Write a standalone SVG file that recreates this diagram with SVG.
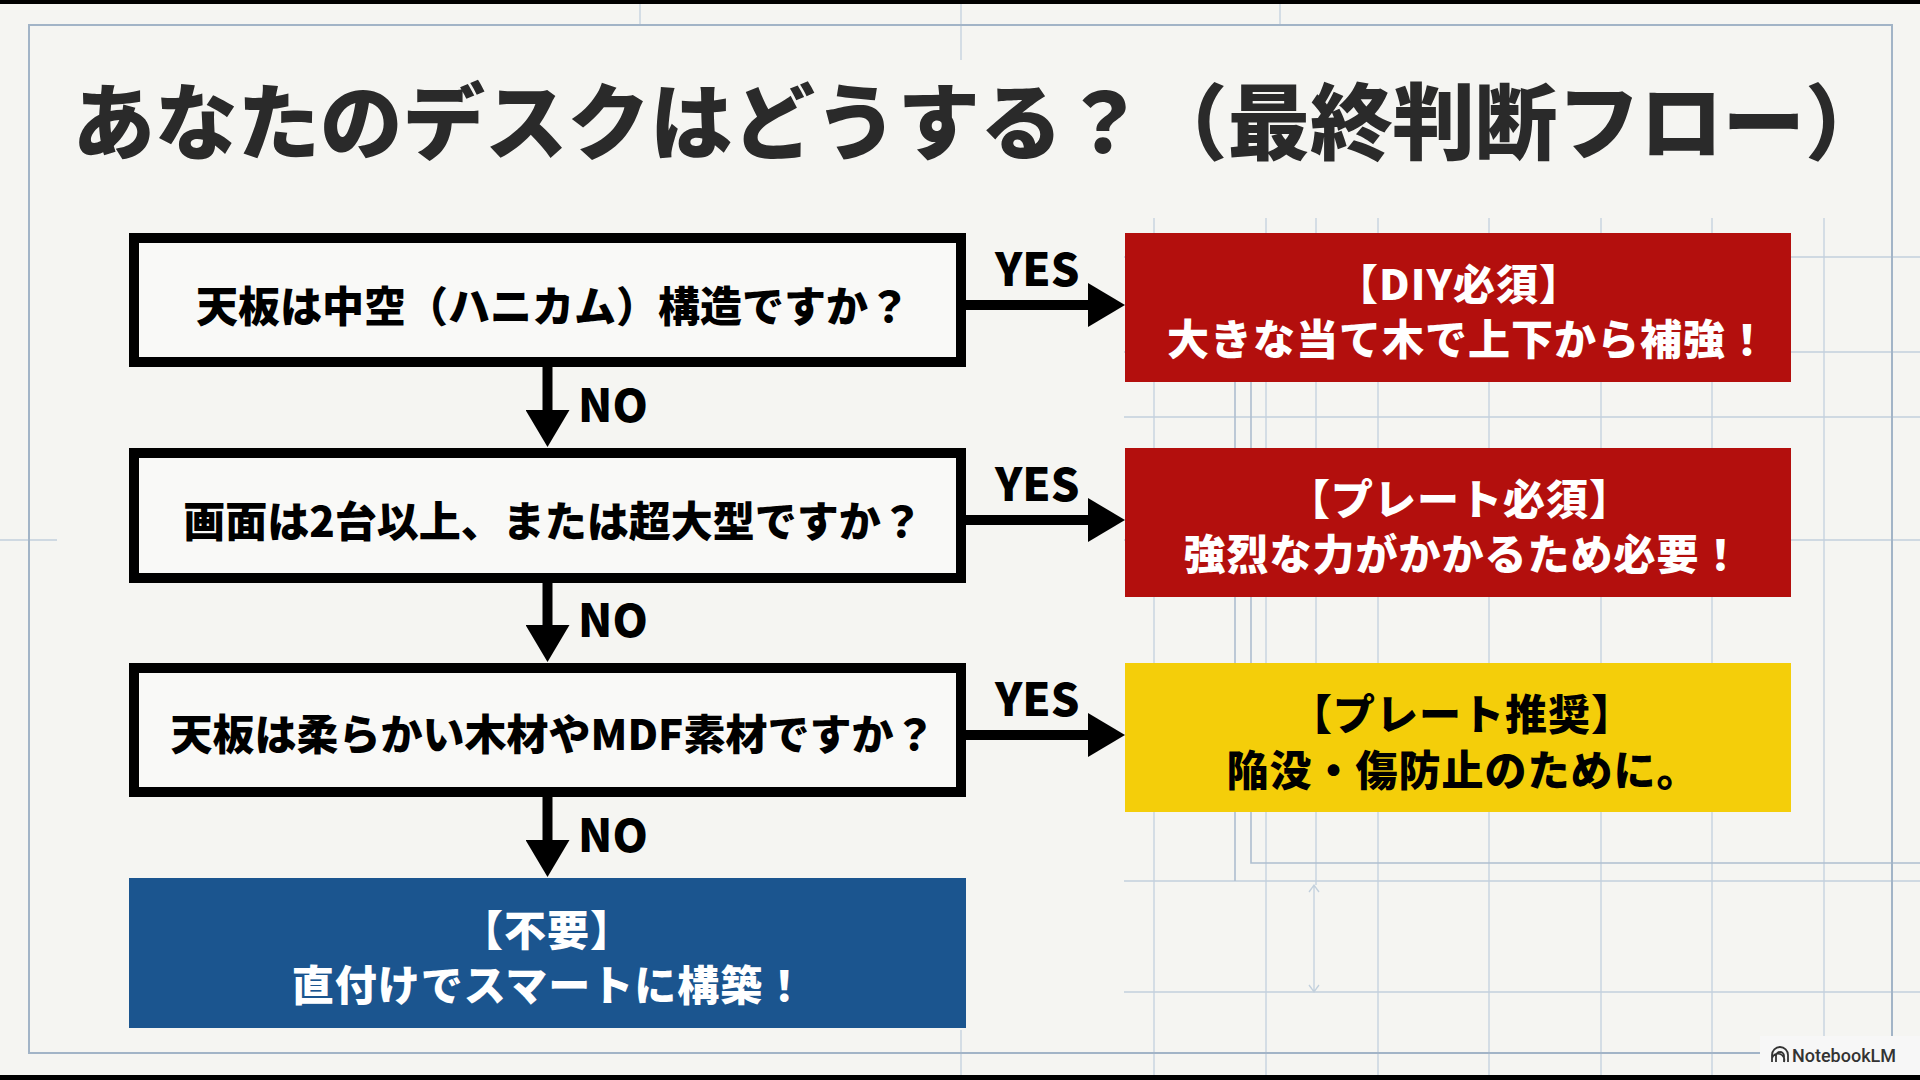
<svg xmlns="http://www.w3.org/2000/svg" width="1920" height="1080" viewBox="0 0 1920 1080">
<defs>
<style>
.grid{stroke:#C2D0DD;stroke-width:1.3;fill:none}
.frame{stroke:#A2B4C7;stroke-width:2;fill:none}
.inner{stroke:#AEBECF;stroke-width:1.6;fill:none}
.qbox{fill:#F9F9F7;stroke:#000;stroke-width:10}
.jp{font-family:"Noto Sans CJK JP","Noto Sans",sans-serif;font-weight:900}
.title{font-size:82.5px;fill:#2A2A2A;text-anchor:middle}
.qt{font-size:42px;fill:#000;text-anchor:middle}
.rt{font-size:42px;text-anchor:middle;letter-spacing:1px}
.white{fill:#FFFFFF}
.black{fill:#000}
.lbl{font-size:45px;fill:#000}
.conn{stroke:#000;stroke-width:10;fill:none;marker-end:url(#ah)}
</style>
<marker id="ah" markerUnits="userSpaceOnUse" markerWidth="37" markerHeight="44" refX="7" refY="22" orient="auto">
<path d="M0,0 L37,22 L0,44 z" fill="#000"/>
</marker>
</defs>

<rect x="0" y="0" width="1920" height="1080" fill="#F5F5F2"/>

<g id="background-grid">
<path class="grid" d="M1154 218V1075M1266 218V1075M1378 218V1075M1489 218V1075M1601 218V1075M1712 218V1075M1824 218V1075M1316 218V885"/>
<path class="grid" d="M1124 257H1920M1124 352H1920M1124 417H1920M1124 540H1920M1124 881H1920M1124 992H1920"/>
<path class="grid" d="M0 540H57M640 4V25M961 4V60M1280 4V25M961 1030V1075"/>
<path class="inner" d="M1251 382V863H1920M1235 382V881"/>
<path class="grid" d="M1314 885V992M1309 892L1314 885L1319 892M1309 985L1314 992L1319 985"/>
<path class="frame" d="M1760 1053H29V25H1892V1042"/>
</g>

<rect x="0" y="0" width="1920" height="4" fill="#000"/>
<rect x="0" y="1075" width="1920" height="5" fill="#000"/>

<text class="jp title" x="980" y="153">あなたのデスクはどうする？（最終判断フロー）</text>

<g id="connectors">
<path class="conn" d="M966 305H1095"/>
<path class="conn" d="M966 520H1095"/>
<path class="conn" d="M966 735H1095"/>
<path class="conn" d="M547.5 367V417"/>
<path class="conn" d="M547.5 583V632"/>
<path class="conn" d="M547.5 797V847"/>
<text class="jp lbl" x="995" y="286">YES</text>
<text class="jp lbl" x="995" y="501">YES</text>
<text class="jp lbl" x="995" y="716">YES</text>
<text class="jp lbl" x="578" y="422">NO</text>
<text class="jp lbl" x="578" y="637">NO</text>
<text class="jp lbl" x="578" y="852">NO</text>
</g>

<g id="q1">
<rect class="qbox" x="134" y="238" width="827" height="124"/>
<text class="jp qt" x="553" y="322">天板は中空（ハニカム）構造ですか？</text>
</g>
<g id="q2">
<rect class="qbox" x="134" y="453" width="827" height="125"/>
<text class="jp qt" x="553" y="537">画面は2台以上、または超大型ですか？</text>
</g>
<g id="q3">
<rect class="qbox" x="134" y="668" width="827" height="124"/>
<text class="jp qt" x="553" y="750">天板は柔らかい木材やMDF素材ですか？</text>
</g>

<g id="r1">
<rect x="1125" y="233" width="666" height="149" fill="#B30F0D"/>
<text class="jp rt white" x="1459" y="300">【DIY必須】</text>
<text class="jp rt white" x="1468" y="355">大きな当て木で上下から補強！</text>
</g>
<g id="r2">
<rect x="1125" y="448" width="666" height="149" fill="#B30F0D"/>
<text class="jp rt white" x="1460" y="515">【プレート必須】</text>
<text class="jp rt white" x="1463" y="570">強烈な力がかかるため必要！</text>
</g>
<g id="r3">
<rect x="1125" y="663" width="666" height="149" fill="#F4CE0A"/>
<text class="jp rt black" x="1462" y="730">【プレート推奨】</text>
<text class="jp rt black" x="1463" y="786">陥没・傷防止のために。</text>
</g>
<g id="r4">
<rect x="129" y="878" width="837" height="150" fill="#1B558F"/>
<text class="jp rt white" x="547" y="946">【不要】</text>
<text class="jp rt white" x="549" y="1001">直付けでスマートに構築！</text>
</g>

<g id="badge">
<rect x="1760" y="1036" width="160" height="39" fill="#F7F7F7"/>
<path d="M1772 1062V1055A8 8 0 0 1 1788 1055V1062M1776 1062V1056A4 4 0 0 1 1784 1056V1062M1772 1058A6 6 0 0 1 1784 1062" fill="none" stroke="#333" stroke-width="1.8"/>
<text x="1792" y="1062" font-family="Roboto,'Liberation Sans',sans-serif" font-size="18" font-weight="500" fill="#333">NotebookLM</text>
</g>
</svg>
